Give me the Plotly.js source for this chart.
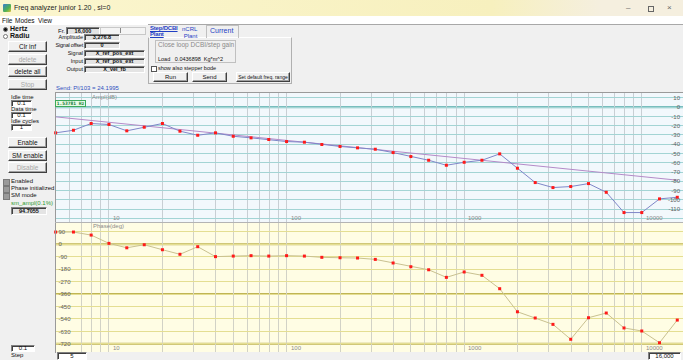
<!DOCTYPE html>
<html>
<head>
<meta charset="utf-8">
<script src="https://cdn.plot.ly/plotly-3.0.1.min.js"></script>
<style>
  html, body { margin: 0; padding: 0; }
  body { width: 683px; height: 360px; overflow: hidden; position: relative; background: #f0f0f0;
         font-family: "Liberation Sans", Arial, sans-serif; color: #111; }
  .abs { position: absolute; white-space: nowrap; }
  .t { position: absolute; white-space: nowrap; font-size: 6.5px; line-height: 7px; }
  .btn { position: absolute; box-sizing: border-box; background: #f0f0f0; font-size: 6.5px; text-align: center; white-space: nowrap; overflow: hidden;
         border: 1px solid; border-color: #ffffff #404040 #404040 #ffffff; box-shadow: inset -1px -1px 0 #a0a0a0; }
  .dis { color: #a8a8a8; }
  .box { position: absolute; box-sizing: border-box; background: #fff; font-size: 6px; text-align: center; white-space: nowrap; overflow: hidden;
         border: 1px solid; border-color: #808080 #ffffff #ffffff #808080; box-shadow: inset 1px 1px 0 #404040; }
  .gbox { background: #e4e4e4; font-weight: bold; font-size: 5.5px; }
  .chk { position: absolute; width: 5px; height: 5px; background: #9a9a9a; border: 1px solid #7a7a7a; }
  #plot { position: absolute; left: 0; top: 0; width: 683px; height: 360px; z-index: 1; }
  .over { z-index: 2; }
</style>
</head>
<body>
<!-- title bar -->
<div class="abs" style="left:0;top:0;width:683px;height:16px;background:linear-gradient(to right,#fbf6cf 0%,#f7f0be 72%,#f5efdf 88%,#f5efdf 100%);"></div>
<div class="abs" style="left:3px;top:4px;width:8px;height:8px;background:linear-gradient(135deg,#3a7bd5 0%,#4fb34f 60%,#e0c040 100%);border-radius:1px;"></div>
<div class="t" style="left:14px;top:4px;font-size:7px;color:#222;">Freq analyzer junior 1.20 , sl=0</div>
<div class="t" style="left:626px;top:4px;font-size:8px;color:#666;">&#8211;</div>
<div class="abs" style="left:648px;top:6px;width:4px;height:4px;border:1px solid #666;"></div>
<div class="t" style="left:667px;top:4px;font-size:8px;color:#666;">&#215;</div>
<!-- menu bar -->
<div class="abs" style="left:0;top:16px;width:683px;height:9px;background:#ffffff;"></div>
<div class="t" style="left:2px;top:17px;font-size:6.5px;">File</div>
<div class="t" style="left:15px;top:17px;font-size:6.5px;">Modes</div>
<div class="t" style="left:38px;top:17px;font-size:6.5px;">View</div>
<div class="abs" style="left:148px;top:24px;width:535px;height:1px;background:#a8a8a8;"></div>

<!-- left panel -->
<div class="abs" style="left:3px;top:27px;width:3px;height:3px;border-radius:50%;background:#111;border:1px solid #777;"></div>
<div class="t" style="left:10px;top:25px;font-size:7px;font-weight:bold;">Hertz</div>
<div class="abs" style="left:3px;top:34px;width:3px;height:3px;border-radius:50%;background:#fff;border:1px solid #777;"></div>
<div class="t" style="left:10px;top:32px;font-size:7px;font-weight:bold;">Radiu</div>
<div class="btn" style="left:8px;top:41px;width:39px;height:11px;line-height:9px;">Clr inf</div>
<div class="btn dis" style="left:8px;top:54px;width:39px;height:11px;line-height:9px;">delete</div>
<div class="btn" style="left:8px;top:66px;width:39px;height:11px;line-height:9px;">delete all</div>
<div class="btn dis" style="left:8px;top:79px;width:39px;height:11px;line-height:9px;">Stop</div>
<div class="t" style="left:11px;top:94px;font-size:6px;">Idle time</div>
<div class="box" style="left:11px;top:100px;width:21px;height:7px;line-height:5px;">0.1</div>
<div class="t" style="left:11px;top:106px;font-size:6px;">Data time</div>
<div class="box" style="left:11px;top:112px;width:21px;height:7px;line-height:5px;">0.1</div>
<div class="t" style="left:11px;top:118px;font-size:6px;">Idle cycles</div>
<div class="box" style="left:11px;top:124px;width:21px;height:7px;line-height:5px;">1</div>
<div class="btn" style="left:8px;top:137px;width:39px;height:11px;line-height:9px;">Enable</div>
<div class="btn" style="left:8px;top:150px;width:39px;height:11px;line-height:9px;">SM enable</div>
<div class="btn dis" style="left:8px;top:162px;width:39px;height:11px;line-height:9px;">Disable</div>
<div class="chk" style="left:3px;top:179px;"></div>
<div class="t" style="left:11px;top:178px;font-size:6px;">Enabled</div>
<div class="chk" style="left:3px;top:186px;"></div>
<div class="t" style="left:11px;top:185px;font-size:6px;">Phase initialized</div>
<div class="chk" style="left:3px;top:193px;"></div>
<div class="t" style="left:11px;top:192px;font-size:6px;">SM mode</div>
<div class="t" style="left:11px;top:200px;font-size:6px;color:#2f9a2f;">sm_ampl(0.1%) :</div>
<div class="box gbox" style="left:11px;top:207px;width:36px;height:8px;line-height:6px;">94.7055</div>
<div class="box" style="left:11px;top:345px;width:24px;height:7px;line-height:5px;">0.1</div>
<div class="t" style="left:11px;top:352px;font-size:6px;">Step</div>

<!-- top parameter panel -->
<div class="t" style="left:58px;top:28px;font-size:6px;">Fr.</div>
<div class="box gbox" style="left:66px;top:27px;width:34px;height:8px;line-height:6px;">16,000</div>
<div class="abs" style="left:100px;top:27px;width:46px;height:8px;box-sizing:border-box;border:1px solid #c8c8c8;background:#f4f4f4;"></div>
<div class="abs" style="left:120px;top:28px;width:1px;height:5px;background:#888;"></div>
<div class="t" style="left:53px;top:34px;width:30px;text-align:right;font-size:5.5px;">Amplitude</div>
<div class="box gbox" style="left:84px;top:34px;width:36px;height:7px;line-height:5px;">3,276.8</div>
<div class="t" style="left:53px;top:42px;width:30px;text-align:right;font-size:5.5px;letter-spacing:-0.2px;">Signal offset</div>
<div class="box gbox" style="left:84px;top:42px;width:36px;height:7px;line-height:5px;">0</div>
<div class="t" style="left:53px;top:50px;width:30px;text-align:right;font-size:5.5px;">Signal</div>
<div class="box gbox" style="left:84px;top:50px;width:61px;height:7px;line-height:5px;">X_ref_pos_ext</div>
<div class="t" style="left:53px;top:58px;width:30px;text-align:right;font-size:5.5px;">Input</div>
<div class="box gbox" style="left:84px;top:58px;width:61px;height:7px;line-height:5px;">X_ref_pos_ext</div>
<div class="t" style="left:53px;top:66px;width:30px;text-align:right;font-size:5.5px;">Output</div>
<div class="box gbox" style="left:84px;top:66px;width:61px;height:7px;line-height:5px;">X_vel_fb</div>
<div class="t" style="left:56px;top:85px;font-size:6px;color:#3050c0;">Send: Pl/103 = 24.1995</div>

<!-- tab control -->
<div class="abs" style="left:148px;top:37px;width:144px;height:47px;box-sizing:border-box;border:1px solid #b0b0b0;border-top-color:#fff;"></div>
<div class="t" style="left:150px;top:25px;font-size:6px;font-weight:bold;color:#1f3fc4;text-decoration:underline;line-height:6px;letter-spacing:-0.2px;">Step/DCBI<br>Plant</div>
<div class="t" style="left:182px;top:26px;font-size:6px;color:#1f3fc4;line-height:7px;">nCRL<br>&nbsp;Plant</div>
<div class="abs" style="left:206px;top:25px;width:33px;height:13px;box-sizing:border-box;border:1px solid #c0c0c0;border-bottom:none;"></div>
<div class="t" style="left:210px;top:27px;font-size:7px;color:#1f3fc4;">Current</div>
<div class="abs" style="left:155px;top:40px;width:81px;height:23px;box-sizing:border-box;border:1px solid #c0c0c0;"></div>
<div class="t" style="left:158px;top:41px;font-size:6.5px;color:#8a8a8a;">Close loop DCBI/step gain</div>
<div class="t" style="left:158px;top:56px;font-size:5.5px;">Load&nbsp;&nbsp;&nbsp;0.0436898&nbsp;&nbsp;Kg*m^2</div>
<div class="abs" style="left:151px;top:66px;width:4px;height:4px;border:1px solid #555;background:#fff;"></div>
<div class="t" style="left:158px;top:65px;font-size:5.5px;">show also stepper bode</div>
<div class="btn" style="left:153px;top:72px;width:35px;height:10px;line-height:8px;font-size:6px;">Run</div>
<div class="btn" style="left:192px;top:72px;width:35px;height:10px;line-height:8px;font-size:6px;">Send</div>
<div class="btn" style="left:236px;top:72px;width:54px;height:10px;line-height:8px;font-size:5px;">Set default freq. range</div>

<!-- range boxes under the plot -->
<div class="box" style="left:57px;top:352px;width:30px;height:8px;line-height:6px;">5</div>
<div class="box" style="left:648px;top:352px;width:33px;height:8px;line-height:6px;">16,000</div>

<div id="plot"></div>

<!-- frames and cursor readout on top of the plot -->
<div class="abs over" style="left:55px;top:92px;width:628px;height:1px;background:#9a9a9a;"></div>
<div class="abs over" style="left:55px;top:92px;width:1px;height:261px;background:#9a9a9a;"></div>
<div class="abs over" style="left:55px;top:222px;width:628px;height:1px;background:#b4b4b4;"></div>
<div class="abs over" style="left:55px;top:100px;width:31px;height:7px;box-sizing:border-box;border:1px solid #3aaa5a;background:#e6fbe6;
     font-family:'DejaVu Sans Mono',monospace;font-size:4.6px;line-height:5px;color:#157a35;font-weight:bold;text-align:center;">1.53781 Hz</div>

<script>
// Sweep frequencies (Hz), ten points per decade
const freqHz = [5.01, 6.31, 7.94, 10, 12.6, 15.8, 20, 25.1, 31.6, 39.8,
                50.1, 63.1, 79.4, 100, 126, 158, 200, 251, 316, 398,
                501, 631, 794, 1000, 1259, 1585, 1995, 2512, 3162, 3981,
                5012, 6310, 7943, 10000, 12589, 15849];
// Measured amplitude (dB)
const amplDb = [-27.7, -24.9, -17.6, -18.7, -25.5, -21.6, -17.6, -25.9, -30.3, -27.7,
                -31.4, -33.1, -34.9, -37.1, -37.8, -40.3, -42.4, -43.9, -45.4, -49.0,
                -53.3, -57.3, -62.7, -59.5, -57.3, -50.4, -65.9, -81.4, -86.8, -85.7,
                -82.5, -91.9, -113.8, -113.8, -99.0, -97.3];
// Measured phase (deg)
const phaseDeg = [89, 89, 67, 7, -25, -3, -39, -72, -17, -89,
                  -85, -82, -85, -82, -85, -94, -97, -99, -109, -135,
                  -162, -184, -239, -200, -224, -321, -488, -533, -579, -687,
                  -531, -497, -605, -627, -712, -548];
// Model amplitude line (dB) across the sweep range
const modelHz = [5, 16000];
const modelDb = [-10.4, -78.9];

// Axis ticks
const amplTicks = [10, 0, -10, -20, -30, -40, -50, -60, -70, -80, -90, -100, -110, -120];
const amplTickText = ['10', '0', '-10', '-20', '-30', '-40', '-50', '-60', '-70', '-80', '-90', '-100', '-110', ''];
const phaseTicks = [90, 0, -90, -180, -270, -360, -450, -540, -630, -720];
const phaseTickText = ['90', '0', '-90', '-180', '-270', '-360', '-450', '-540', '-630', '-720'];
const amplMajor = [0];
const phaseMajor = [0, -360, -720];
const decades = [10, 100, 1000, 10000];
const decadeText = ['10', '100', '1000', '10000'];
const gridHz = [5, 6, 7, 8, 9, 10, 20, 30, 40, 50, 60, 70, 80, 90, 100, 200, 300, 400, 500, 600, 700, 800, 900,
                1000, 2000, 3000, 4000, 5000, 6000, 7000, 8000, 9000, 10000];

const W = 683, H = 360;
const px = (a, b) => [a / W, b / W];
const py = (top, bottom) => [(H - bottom) / H, (H - top) / H];
const lg = Math.log10;

const xRange = [lg(5), lg(5) + 627.5 / 177.6];

const traces = [
  { x: modelHz, y: modelDb, xaxis: 'x', yaxis: 'y', mode: 'lines',
    line: { color: '#b48ac8', width: 1 }, hoverinfo: 'skip' },
  { x: freqHz, y: amplDb, xaxis: 'x', yaxis: 'y', mode: 'lines+markers', cliponaxis: false,
    line: { color: '#7f86c8', width: 1 },
    marker: { symbol: 'square', size: 3, color: '#ff1a1a', line: { width: 0 } } },
  { x: freqHz, y: phaseDeg, xaxis: 'x2', yaxis: 'y2', mode: 'lines+markers', cliponaxis: false,
    line: { color: '#c9c190', width: 1 },
    marker: { symbol: 'square', size: 3, color: '#ff1a1a', line: { width: 0 } } }
];

// Plot backgrounds, then emphasised decade / reference grid lines (drawn under the regular grid)
const shapes = [
  { type: 'rect', xref: 'x domain', yref: 'y domain', x0: 0, x1: 1, y0: 0, y1: 1,
    fillcolor: '#f2f8fc', line: { width: 0 }, layer: 'below' },
  { type: 'rect', xref: 'x2 domain', yref: 'y2 domain', x0: 0, x1: 1, y0: 0, y1: 1,
    fillcolor: '#fffde4', line: { width: 0 }, layer: 'below' }
];
decades.forEach(d => {
  shapes.push({ type: 'line', xref: 'x', yref: 'y domain', x0: lg(d), x1: lg(d), y0: 0, y1: 1,
                line: { color: '#b3bac1', width: 2.2 }, layer: 'below' });
  shapes.push({ type: 'line', xref: 'x2', yref: 'y2 domain', x0: lg(d), x1: lg(d), y0: 0, y1: 1,
                line: { color: '#c2c2b6', width: 2.2 }, layer: 'below' });
});
amplMajor.forEach(v => shapes.push({ type: 'line', xref: 'x domain', yref: 'y', x0: 0, x1: 1, y0: v, y1: v,
                line: { color: '#78bebe', width: 2.2 }, layer: 'below' }));
phaseMajor.forEach(v => shapes.push({ type: 'line', xref: 'x2 domain', yref: 'y2', x0: 0, x1: 1, y0: v, y1: v,
                line: { color: '#c0b554', width: 2 }, layer: 'below' }));

const annFont = { family: 'Liberation Sans, Arial, sans-serif', size: 6, color: '#8a8a8a' };
const annotations = [
  { text: 'Ampl(dB)', xref: 'paper', yref: 'paper', x: 90 / W, y: (H - 97) / H,
    xanchor: 'left', yanchor: 'middle', showarrow: false, font: annFont },
  { text: 'Phase(deg)', xref: 'paper', yref: 'paper', x: 91 / W, y: (H - 226) / H,
    xanchor: 'left', yanchor: 'middle', showarrow: false, font: annFont }
];
decades.forEach((d, i) => {
  annotations.push({ text: decadeText[i], xref: 'x', yref: 'y domain', x: lg(d), y: 0, xshift: 2, yshift: -1,
                     xanchor: 'left', yanchor: 'bottom', showarrow: false, font: annFont });
  annotations.push({ text: decadeText[i], xref: 'x2', yref: 'y2 domain', x: lg(d), y: 0, xshift: 2, yshift: -1,
                     xanchor: 'left', yanchor: 'bottom', showarrow: false, font: annFont });
});

const tickFont = { family: 'Liberation Sans, Arial, sans-serif', size: 6, color: '#606060' };
const xBase = { type: 'log', range: xRange, domain: px(55.5, 683), tickvals: gridHz,
                showticklabels: false, ticks: '', zeroline: false, showline: false,
                gridcolor: '#c8cfd4', gridwidth: 1, fixedrange: true };

const layout = {
  width: W, height: H,
  margin: { l: 0, r: 0, t: 0, b: 0, pad: 0 },
  paper_bgcolor: 'rgba(0,0,0,0)', plot_bgcolor: 'rgba(0,0,0,0)',
  showlegend: false,
  xaxis: Object.assign({}, xBase, { anchor: 'y' }),
  xaxis2: Object.assign({}, xBase, { anchor: 'y2', gridcolor: '#d2d2c6' }),
  yaxis: { domain: py(93, 222), range: [-124.0, 15.35], anchor: 'x', side: 'right',
           ticklabelposition: 'inside', tickvals: amplTicks, ticktext: amplTickText, ticks: '',
           tickfont: tickFont, gridcolor: '#a3d4d4', gridwidth: 1, zeroline: false, showline: false, fixedrange: true },
  yaxis2: { domain: py(222.5, 352), range: [-779, 158], anchor: 'x2', side: 'left',
            ticklabelposition: 'inside', tickvals: phaseTicks, ticktext: phaseTickText, ticks: '',
            tickfont: tickFont, gridcolor: '#e4de92', gridwidth: 1, zeroline: false, showline: false, fixedrange: true },
  shapes: shapes,
  annotations: annotations
};

Plotly.newPlot('plot', traces, layout, { staticPlot: true, displayModeBar: false });
</script>
</body>
</html>
